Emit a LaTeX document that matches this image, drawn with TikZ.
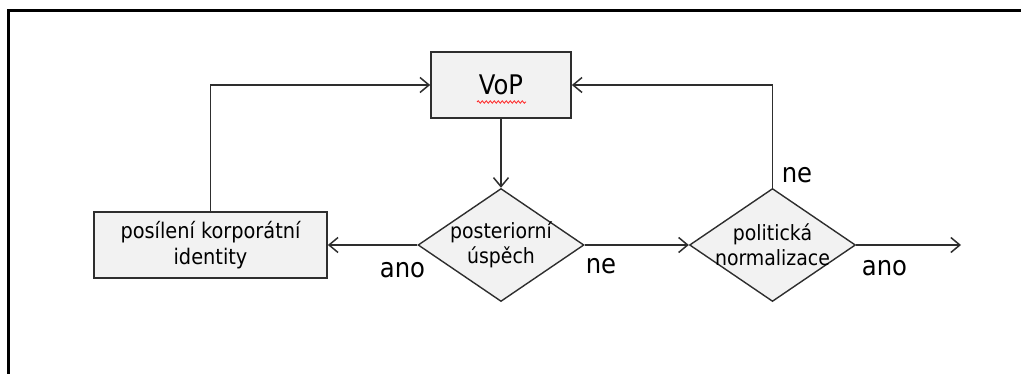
\documentclass[tikz,border=0pt]{standalone}
\usepackage{fontspec}
\setmainfont{DejaVu Sans Condensed}
\usepackage{tikz}
\usetikzlibrary{arrows.meta,shapes.geometric,decorations.pathmorphing}

\definecolor{linegray}{HTML}{2E2E2E}
\definecolor{boxfill}{HTML}{F2F2F2}

\begin{document}
\begin{tikzpicture}[
  x=1pt,y=-1pt,
  every node/.style={align=center,text=black},
  process/.style={draw=linegray,line width=1.7pt,fill=boxfill,inner sep=0pt,
    font=\fontsize{21.5}{25.5}\selectfont},
  decision/.style={diamond,draw=linegray,line width=1.4pt,fill=boxfill,inner sep=-14pt,
    minimum width=166pt,minimum height=113pt,font=\fontsize{21}{25.5}\selectfont},
  answer/.style={anchor=base,inner sep=0pt,font=\fontsize{27}{30}\selectfont},
  to/.style={-{Straight Barb[length=9pt,width=15pt,line width=1.5pt]},line width=1.5pt,draw=linegray}]

  \useasboundingbox (0,0) rectangle (1021,374);
  % frame of the screenshot
  \draw[line width=2.2pt,black] (8.5,374) -- (8.5,10.5) -- (1021,10.5);

  % Position the nodes at coordinates
  \node[process,minimum width=140pt,minimum height=66pt,font=\fontsize{27}{30}\selectfont] (vop) at (501,85) {VoP};
  \node[process,minimum width=233pt,minimum height=66pt] (corp) at (210.5,245) {posílení korporátní\\identity};
  \node[decision] (success) at (501,245) {posteriorní\\úspěch};
  \node[decision] (normal) at (772.5,245) {politická\\normalizace};
  \coordinate (out) at (961,245);

  % spell check underline below VoP
  \draw[red!85,line width=0.8pt,decorate,decoration={snake,amplitude=1.2pt,segment length=4pt}]
    ([xshift=-24pt,yshift=-17pt]vop.center) -- ([xshift=25pt,yshift=-17pt]vop.center);

  % Draw the arrows between the nodes
  \draw[to] (vop) -- (success);
  \draw[to] (success.west) -- (corp.east);
  \draw[to] (success.east) -- (normal.west);
  \draw[to] (normal.east) -- (out);
  \draw[to] (corp.north) |- (vop.west);
  \draw[to] (normal.north) |- (vop.east);

  % answers
  \node[answer] (ano_left) at (402.5,278) {ano};
  \node[answer] (ne_right) at (601,274) {ne};
  \node[answer] (ne_top) at (797,183) {ne};
  \node[answer] (ano_right) at (884.5,276) {ano};
\end{tikzpicture}
\end{document}
